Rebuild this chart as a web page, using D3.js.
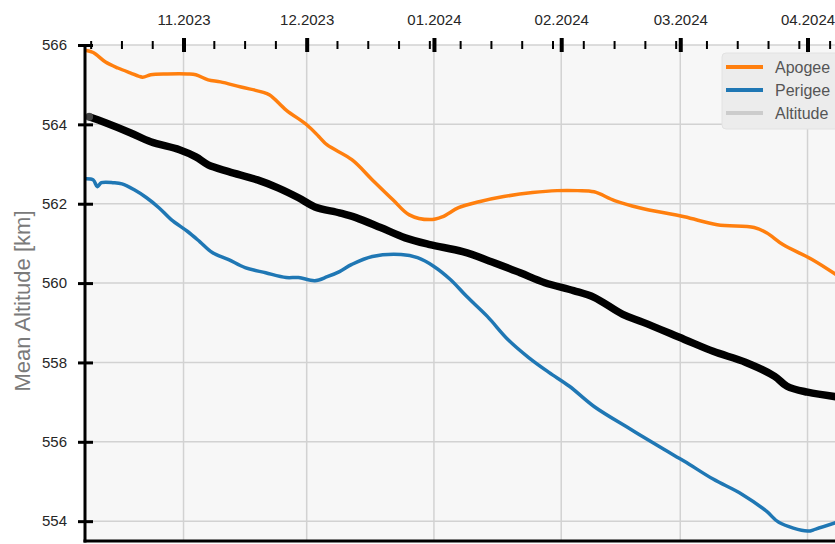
<!DOCTYPE html>
<html>
<head>
<meta charset="utf-8">
<script src="https://cdn.jsdelivr.net/npm/d3@7"></script>
<style>
  html, body { margin: 0; padding: 0; background: #fff; }
  #chart { width: 835px; height: 544px; overflow: hidden; }
</style>
</head>
<body>
<div id="chart"></div>
<script>
// values (date, km)
const apogee = [
  ['2023-10-08', 565.87], ['2023-10-10', 565.81], ['2023-10-13', 565.57], ['2023-10-16', 565.42],
  ['2023-10-19', 565.30], ['2023-10-22', 565.19], ['2023-10-24', 565.25], ['2023-10-28', 565.27],
  ['2023-11-02', 565.27], ['2023-11-04', 565.25], ['2023-11-07', 565.12], ['2023-11-10', 565.07],
  ['2023-11-15', 564.94], ['2023-11-20', 564.82], ['2023-11-22', 564.74], ['2023-11-26', 564.36],
  ['2023-12-01', 563.99], ['2023-12-04', 563.69], ['2023-12-06', 563.48], ['2023-12-12', 563.11],
  ['2023-12-17', 562.60], ['2023-12-22', 562.10], ['2023-12-26', 561.72], ['2023-12-31', 561.60],
  ['2024-01-03', 561.67], ['2024-01-07', 561.90], ['2024-01-12', 562.05], ['2024-01-18', 562.18],
  ['2024-01-25', 562.28], ['2024-01-31', 562.33], ['2024-02-05', 562.33], ['2024-02-09', 562.30],
  ['2024-02-14', 562.08], ['2024-02-20', 561.90], ['2024-03-02', 561.67], ['2024-03-10', 561.47],
  ['2024-03-19', 561.40], ['2024-03-22', 561.27], ['2024-03-26', 560.97], ['2024-04-02', 560.60],
  ['2024-04-09', 560.14]
];

const perigee = [
  ['2023-10-08', 562.63], ['2023-10-10', 562.60], ['2023-10-11', 562.43], ['2023-10-12', 562.53],
  ['2023-10-15', 562.53], ['2023-10-17', 562.50], ['2023-10-20', 562.35], ['2023-10-23', 562.15],
  ['2023-10-26', 561.90], ['2023-10-29', 561.60], ['2023-11-02', 561.30], ['2023-11-05', 561.04],
  ['2023-11-08', 560.77], ['2023-11-12', 560.59], ['2023-11-16', 560.39], ['2023-11-21', 560.26],
  ['2023-11-26', 560.14], ['2023-11-29', 560.14], ['2023-12-03', 560.06], ['2023-12-06', 560.16],
  ['2023-12-09', 560.29], ['2023-12-12', 560.47], ['2023-12-17', 560.67], ['2023-12-24', 560.72],
  ['2023-12-28', 560.64], ['2024-01-01', 560.42], ['2024-01-05', 560.09], ['2024-01-09', 559.66],
  ['2024-01-14', 559.16], ['2024-01-19', 558.58], ['2024-01-24', 558.13], ['2024-01-29', 557.75],
  ['2024-02-03', 557.40], ['2024-02-09', 556.89], ['2024-02-18', 556.31], ['2024-02-26', 555.81],
  ['2024-03-02', 555.51], ['2024-03-09', 555.06], ['2024-03-16', 554.68], ['2024-03-22', 554.25],
  ['2024-03-25', 553.97], ['2024-04-01', 553.75], ['2024-04-03', 553.80], ['2024-04-09', 554.00]
];

const altitude = [
  ['2023-10-09', 564.19], ['2023-10-13', 564.04], ['2023-10-19', 563.79], ['2023-10-24', 563.56],
  ['2023-10-31', 563.36], ['2023-11-04', 563.18], ['2023-11-07', 562.98], ['2023-11-12', 562.81],
  ['2023-11-19', 562.60], ['2023-11-24', 562.40], ['2023-11-29', 562.15], ['2023-12-03', 561.92],
  ['2023-12-09', 561.77], ['2023-12-13', 561.65], ['2023-12-19', 561.40], ['2023-12-25', 561.14],
  ['2023-12-31', 560.97], ['2024-01-08', 560.79], ['2024-01-15', 560.54], ['2024-01-22', 560.26],
  ['2024-01-28', 560.01], ['2024-02-04', 559.81], ['2024-02-09', 559.64], ['2024-02-16', 559.21],
  ['2024-02-21', 559.01], ['2024-03-02', 558.58], ['2024-03-09', 558.28], ['2024-03-17', 558.00],
  ['2024-03-24', 557.65], ['2024-03-27', 557.40], ['2024-04-01', 557.25], ['2024-04-09', 557.12]
];

const monthTicks = ['2023-11-01', '2023-12-01', '2024-01-01', '2024-02-01', '2024-03-01', '2024-04-01'];
const yTicks = [554, 556, 558, 560, 562, 564, 566];
const xDomain = ['2023-10-08', '2024-04-15'];
const yDomain = [553.5, 566];

const seriesNames = ['Apogee', 'Perigee', 'Altitude'];
const seriesColors = ['#ff7f0e', '#1f77b4', '#cccccc'];

const parse = d3.utcParse('%Y-%m-%d');
const font = '"Liberation Sans", Arial, sans-serif';

const width = 835, height = 544;
const margin = { top: 45, left: 85, bottom: 3 };
const plotRight = 865; // plot runs past the right edge of the picture

const svg = d3.select('#chart').append('svg')
    .attr('width', width)
    .attr('height', height)
    .style('display', 'block')
    .style('font-family', font);

const x = d3.scaleUtc()
    .domain(xDomain.map(parse))
    .range([margin.left, plotRight]);

const y = d3.scaleLinear()
    .domain(yDomain)
    .range([height - margin.bottom, margin.top]);

// plot background
svg.append('rect')
    .attr('x', margin.left)
    .attr('y', margin.top)
    .attr('width', plotRight - margin.left)
    .attr('height', y(yDomain[0]) - margin.top)
    .attr('fill', '#f7f7f7');

svg.append('clipPath').attr('id', 'clip')
    .append('rect')
    .attr('x', margin.left)
    .attr('y', margin.top - 4)
    .attr('width', plotRight - margin.left)
    .attr('height', y(yDomain[0]) - margin.top + 4);

// grid
const grid = svg.append('g').attr('stroke', '#d2d2d2').attr('stroke-width', 1.5);
grid.selectAll('line.h')
    .data(yTicks)
    .join('line')
    .attr('class', 'h')
    .attr('x1', margin.left).attr('x2', plotRight)
    .attr('y1', d => y(d)).attr('y2', d => y(d));
grid.selectAll('line.v')
    .data(monthTicks.map(parse))
    .join('line')
    .attr('class', 'v')
    .attr('x1', d => x(d)).attr('x2', d => x(d))
    .attr('y1', margin.top).attr('y2', y(yDomain[0]));

// lines
const line = d3.line()
    .x(d => x(parse(d[0])))
    .y(d => y(d[1]))
    .curve(d3.curveCatmullRom.alpha(0.5));

const lines = svg.append('g').attr('clip-path', 'url(#clip)');

lines.append('path')
    .datum(altitude)
    .attr('fill', 'none')
    .attr('stroke', '#000')
    .attr('stroke-width', 7.5)
    .attr('stroke-linecap', 'round')
    .attr('stroke-linejoin', 'round')
    .attr('d', line);

lines.append('circle')
    .attr('cx', x(parse(altitude[0][0])))
    .attr('cy', y(altitude[0][1]))
    .attr('r', 4)
    .attr('fill', '#555')
    .attr('opacity', 0.8);

lines.append('path')
    .datum(apogee)
    .attr('fill', 'none')
    .attr('stroke', seriesColors[0])
    .attr('stroke-width', 3.5)
    .attr('stroke-linejoin', 'round')
    .attr('d', line);

lines.append('path')
    .datum(perigee)
    .attr('fill', 'none')
    .attr('stroke', seriesColors[1])
    .attr('stroke-width', 3.5)
    .attr('stroke-linejoin', 'round')
    .attr('d', line);

// top x axis: month labels + thick in/out ticks
const xAxis = svg.append('g')
    .attr('transform', `translate(0,${margin.top})`)
    .call(d3.axisTop(x)
        .tickValues(monthTicks.map(parse))
        .tickFormat(d3.utcFormat('%m.%Y'))
        .tickSize(0)
        .tickPadding(20));
xAxis.select('.domain').remove();
xAxis.selectAll('.tick text')
    .attr('fill', '#262626')
    .style('font-size', '15px')
    .style('font-family', font);
xAxis.selectAll('.tick line')
    .attr('y1', -7).attr('y2', 7)
    .attr('stroke', '#000')
    .attr('stroke-width', 4);

// minor ticks every quarter of the first month step
const step = 7.5 * 864e5;
const first = parse(monthTicks[0]).getTime();
const minor = [];
for (let t = first - step; t >= x.domain()[0].getTime(); t -= step) minor.push(new Date(t));
for (let t = first + step; t <= x.domain()[1].getTime(); t += step) minor.push(new Date(t));
const majorSet = new Set(monthTicks.map(d => parse(d).getTime()));
svg.append('g')
    .selectAll('line')
    .data(minor.filter(d => !majorSet.has(d.getTime())))
    .join('line')
    .attr('x1', d => x(d)).attr('x2', d => x(d))
    .attr('y1', margin.top - 4).attr('y2', margin.top + 4)
    .attr('stroke', '#000')
    .attr('stroke-width', 2);

// left y axis
const yAxis = svg.append('g')
    .attr('transform', `translate(${margin.left},0)`)
    .call(d3.axisLeft(y)
        .tickValues(yTicks)
        .tickFormat(d3.format('d'))
        .tickSize(0)
        .tickPadding(18));
yAxis.select('.domain').remove();
yAxis.selectAll('.tick text')
    .attr('fill', '#262626')
    .style('font-size', '15px')
    .style('font-family', font);
yAxis.selectAll('.tick line')
    .attr('x1', -7).attr('x2', 8)
    .attr('stroke', '#000')
    .attr('stroke-width', 3);

// spines
svg.append('line')
    .attr('x1', margin.left).attr('x2', margin.left)
    .attr('y1', margin.top).attr('y2', y(yDomain[0]) + 1.5)
    .attr('stroke', '#000').attr('stroke-width', 3);
svg.append('line')
    .attr('x1', margin.left - 1.5).attr('x2', plotRight)
    .attr('y1', y(yDomain[0])).attr('y2', y(yDomain[0]))
    .attr('stroke', '#000').attr('stroke-width', 3);

// y label
svg.append('text')
    .attr('transform', `translate(30,${(margin.top + y(yDomain[0])) / 2 + 8}) rotate(-90)`)
    .attr('text-anchor', 'middle')
    .attr('fill', '#7a7a7a')
    .style('font-size', '22px')
    .text('Mean Altitude [km]');

// legend
const legend = svg.append('g').attr('transform', 'translate(722,53)');
legend.append('rect')
    .attr('width', 140).attr('height', 76)
    .attr('rx', 4)
    .attr('fill', '#ececec')
    .attr('stroke', '#e2e2e2');
const items = legend.selectAll('g.item')
    .data(seriesNames)
    .join('g')
    .attr('class', 'item')
    .attr('transform', (d, i) => `translate(0,${14 + i * 23})`);
items.append('line')
    .attr('x1', 4).attr('x2', 41)
    .attr('stroke', (d, i) => seriesColors[i])
    .attr('stroke-width', 4);
items.append('text')
    .attr('x', 53).attr('y', 5.5)
    .attr('fill', '#555')
    .style('font-size', '16px')
    .text(d => d);
</script>
</body>
</html>
